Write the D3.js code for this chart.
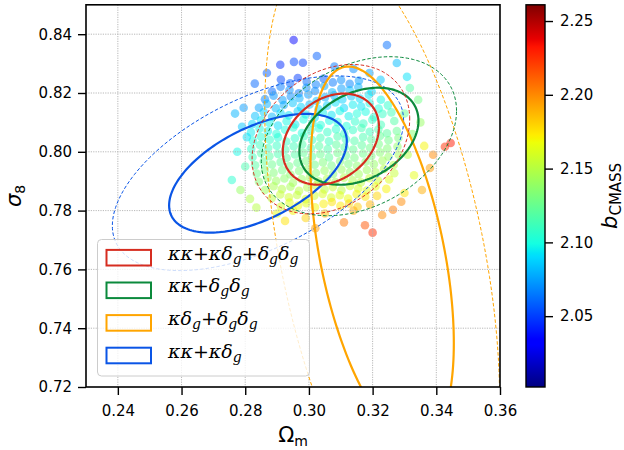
<!DOCTYPE html>
<html lang="en">
<head>
<meta charset="UTF-8">
<title>sigma8 - Omega_m</title>
<script src="https://cdn.jsdelivr.net/npm/d3@7"></script>
<style>
  body { margin: 0; background: #fff; }
  .axis text { font-family: "DejaVu Sans", sans-serif; font-size: 15px; fill: #000; }
  .axis line { stroke: #000; stroke-width: 1.4; }
  .axis path { display: none; }
</style>
</head>
<body>
<svg width="624" height="450" id="mainsvg"></svg>
<script>
// ---- axes ----
const omDomain = [0.23, 0.36];
const s8Domain = [0.72, 0.85];
const bDomain = [2.002, 2.261];
const omTicks = [0.24, 0.26, 0.28, 0.30, 0.32, 0.34, 0.36];
const s8Ticks = [0.72, 0.74, 0.76, 0.78, 0.80, 0.82, 0.84];
const bTicks = [2.05, 2.10, 2.15, 2.20, 2.25];

// ---- chain samples (Omega_m, sigma_8, b_CMASS) ----
const sampleOm = [
  0.2912, 0.2941, 0.2965, 0.2993, 0.3022, 0.3046, 0.3075, 0.3101, 0.3128, 0.3157,
  0.2884, 0.2911, 0.2939, 0.2968, 0.2992, 0.3019, 0.3048, 0.3073, 0.3102, 0.3128, 0.3155, 0.3197,
  0.2862, 0.2889, 0.2917, 0.2943, 0.2970, 0.2998, 0.3024, 0.3051, 0.3079, 0.3105, 0.3133, 0.3160, 0.3188, 0.3226,
  0.2843, 0.2868, 0.2896, 0.2921, 0.2949, 0.2975, 0.3002, 0.3030, 0.3057, 0.3083, 0.3110, 0.3138, 0.3164, 0.3191, 0.3219, 0.3248,
  0.2831, 0.2858, 0.2884, 0.2911, 0.2937, 0.2965, 0.2990, 0.3018, 0.3044, 0.3071, 0.3097, 0.3125, 0.3151, 0.3178, 0.3204, 0.3231, 0.3259,
  0.2822, 0.2850, 0.2876, 0.2903, 0.2930, 0.2957, 0.2983, 0.3011, 0.3037, 0.3064, 0.3090, 0.3118, 0.3145, 0.3171, 0.3199, 0.3226, 0.3268,
  0.2818, 0.2845, 0.2871, 0.2898, 0.2925, 0.2951, 0.2978, 0.3005, 0.3031, 0.3058, 0.3085, 0.3111, 0.3138, 0.3165, 0.3191, 0.3218, 0.3245, 0.3276,
  0.2824, 0.2849, 0.2877, 0.2903, 0.2929, 0.2956, 0.2984, 0.3010, 0.3036, 0.3063, 0.3090, 0.3116, 0.3143, 0.3170, 0.3196, 0.3223, 0.3250, 0.3281,
  0.2819, 0.2846, 0.2872, 0.2899, 0.2926, 0.2952, 0.2979, 0.3006, 0.3032, 0.3059, 0.3086, 0.3112, 0.3139, 0.3166, 0.3192, 0.3219, 0.3246, 0.3278,
  0.2823, 0.2850, 0.2876, 0.2903, 0.2930, 0.2956, 0.2983, 0.3010, 0.3036, 0.3063, 0.3090, 0.3116, 0.3143, 0.3170, 0.3196, 0.3223, 0.3250, 0.3282,
  0.2831, 0.2858, 0.2884, 0.2911, 0.2938, 0.2964, 0.2991, 0.3018, 0.3044, 0.3071, 0.3098, 0.3124, 0.3151, 0.3178, 0.3204, 0.3231, 0.3266,
  0.2836, 0.2862, 0.2889, 0.2916, 0.2942, 0.2969, 0.2996, 0.3022, 0.3049, 0.3076, 0.3102, 0.3129, 0.3156, 0.3182, 0.3209, 0.3236, 0.3268,
  0.2843, 0.2870, 0.2897, 0.2923, 0.2950, 0.2977, 0.3003, 0.3030, 0.3057, 0.3083, 0.3110, 0.3137, 0.3163, 0.3190, 0.3217, 0.3252,
  0.2862, 0.2889, 0.2915, 0.2942, 0.2969, 0.2995, 0.3022, 0.3049, 0.3075, 0.3102, 0.3129, 0.3155, 0.3182, 0.3209, 0.3243,
  0.2883, 0.2910, 0.2937, 0.2963, 0.2990, 0.3017, 0.3043, 0.3070, 0.3097, 0.3123, 0.3150, 0.3177, 0.3214,
  0.2912, 0.2939, 0.2966, 0.2992, 0.3019, 0.3046, 0.3072, 0.3099, 0.3126, 0.3153, 0.3192,
  0.2952, 0.2910, 0.2953, 0.2981, 0.3025, 0.3245, 0.3276, 0.3308, 0.3317, 0.3343, 0.2868, 0.3080, 0.3140, 0.3190, 0.2830, 0.3225,
  0.2758, 0.2790, 0.2775, 0.2800, 0.2795, 0.2785, 0.2815, 0.2835, 0.2805, 0.2768,
  0.3300, 0.3325, 0.3310, 0.3330, 0.3300, 0.3350, 0.3362, 0.3390, 0.3427, 0.3445, 0.3380, 0.3355,
  0.3176, 0.3264, 0.3230, 0.3050, 0.2990, 0.3110, 0.2950, 0.3200, 0.3020, 0.2900, 0.3140, 0.3290, 0.2925
];
const sampleS8 = [
  0.8246, 0.8233, 0.8251, 0.8238, 0.8229, 0.8249, 0.8236, 0.8244, 0.8231, 0.8242,
  0.8205, 0.8221, 0.8210, 0.8199, 0.8218, 0.8207, 0.8224, 0.8202, 0.8215, 0.8209, 0.8220, 0.8204,
  0.8179, 0.8191, 0.8176, 0.8188, 0.8182, 0.8195, 0.8173, 0.8186, 0.8192, 0.8178, 0.8189, 0.8181, 0.8194, 0.8177,
  0.8150, 0.8163, 0.8148, 0.8159, 0.8166, 0.8152, 0.8161, 0.8145, 0.8157, 0.8168, 0.8149, 0.8160, 0.8154, 0.8165, 0.8147, 0.8158,
  0.8122, 0.8135, 0.8119, 0.8131, 0.8124, 0.8138, 0.8127, 0.8117, 0.8133, 0.8125, 0.8139, 0.8121, 0.8130, 0.8136, 0.8118, 0.8129, 0.8134,
  0.8094, 0.8107, 0.8098, 0.8089, 0.8104, 0.8093, 0.8110, 0.8097, 0.8091, 0.8106, 0.8101, 0.8088, 0.8103, 0.8096, 0.8109, 0.8092, 0.8105,
  0.8066, 0.8079, 0.8070, 0.8061, 0.8075, 0.8083, 0.8064, 0.8072, 0.8080, 0.8067, 0.8077, 0.8062, 0.8074, 0.8081, 0.8068, 0.8076, 0.8063, 0.8071,
  0.8038, 0.8051, 0.8041, 0.8049, 0.8035, 0.8046, 0.8053, 0.8040, 0.8048, 0.8036, 0.8052, 0.8043, 0.8037, 0.8050, 0.8042, 0.8054, 0.8039, 0.8047,
  0.8010, 0.8023, 0.8013, 0.8021, 0.8007, 0.8019, 0.8025, 0.8012, 0.8020, 0.8009, 0.8024, 0.8015, 0.8008, 0.8022, 0.8014, 0.8026, 0.8011, 0.8018,
  0.7982, 0.7995, 0.7985, 0.7993, 0.7979, 0.7991, 0.7997, 0.7984, 0.7992, 0.7981, 0.7996, 0.7987, 0.7980, 0.7994, 0.7986, 0.7998, 0.7983, 0.7990,
  0.7954, 0.7967, 0.7957, 0.7965, 0.7951, 0.7963, 0.7969, 0.7956, 0.7964, 0.7953, 0.7968, 0.7959, 0.7952, 0.7966, 0.7958, 0.7970, 0.7955,
  0.7926, 0.7939, 0.7929, 0.7937, 0.7923, 0.7935, 0.7941, 0.7928, 0.7936, 0.7925, 0.7940, 0.7931, 0.7924, 0.7938, 0.7930, 0.7942, 0.7927,
  0.7898, 0.7911, 0.7901, 0.7909, 0.7895, 0.7907, 0.7913, 0.7900, 0.7908, 0.7897, 0.7912, 0.7903, 0.7896, 0.7910, 0.7902, 0.7906,
  0.7870, 0.7883, 0.7873, 0.7881, 0.7867, 0.7879, 0.7885, 0.7872, 0.7880, 0.7869, 0.7884, 0.7875, 0.7868, 0.7882, 0.7874,
  0.7842, 0.7855, 0.7845, 0.7853, 0.7839, 0.7851, 0.7857, 0.7844, 0.7852, 0.7841, 0.7856, 0.7847, 0.7850,
  0.7814, 0.7827, 0.7817, 0.7825, 0.7811, 0.7823, 0.7829, 0.7816, 0.7824, 0.7813, 0.7821,
  0.8380, 0.8296, 0.8306, 0.8303, 0.8326, 0.8363, 0.8302, 0.8255, 0.8217, 0.8177, 0.8268, 0.8290, 0.8282, 0.8268, 0.8232, 0.8245,
  0.7904, 0.8085, 0.8000, 0.7950, 0.8150, 0.7870, 0.7840, 0.7810, 0.8050, 0.8130,
  0.8130, 0.8060, 0.7990, 0.7920, 0.7860, 0.8100, 0.8020, 0.7990, 0.8017, 0.8030, 0.7945, 0.7870,
  0.7750, 0.7803, 0.7785, 0.7790, 0.7775, 0.7760, 0.7800, 0.7725, 0.7740, 0.7790, 0.7800, 0.7830, 0.7765
];
const sampleB = [
  2.052, 2.058, 2.049, 2.061, 2.066, 2.057, 2.064, 2.070, 2.068, 2.074,
  2.060, 2.066, 2.071, 2.064, 2.072, 2.069, 2.076, 2.080, 2.074, 2.083, 2.079, 2.088,
  2.068, 2.072, 2.075, 2.070, 2.079, 2.074, 2.083, 2.078, 2.081, 2.087, 2.084, 2.090, 2.093, 2.098,
  2.075, 2.079, 2.082, 2.077, 2.084, 2.088, 2.083, 2.090, 2.087, 2.092, 2.089, 2.095, 2.093, 2.099, 2.102, 2.106,
  2.083, 2.086, 2.081, 2.089, 2.092, 2.087, 2.094, 2.091, 2.096, 2.093, 2.098, 2.096, 2.101, 2.099, 2.104, 2.108, 2.112,
  2.089, 2.093, 2.096, 2.091, 2.098, 2.095, 2.100, 2.097, 2.102, 2.099, 2.104, 2.101, 2.106, 2.109, 2.107, 2.112, 2.118,
  2.095, 2.099, 2.097, 2.102, 2.100, 2.104, 2.101, 2.106, 2.103, 2.108, 2.105, 2.110, 2.108, 2.113, 2.111, 2.116, 2.120, 2.124,
  2.101, 2.104, 2.107, 2.103, 2.109, 2.106, 2.111, 2.108, 2.113, 2.110, 2.115, 2.112, 2.117, 2.115, 2.120, 2.123, 2.127, 2.131,
  2.106, 2.110, 2.112, 2.109, 2.115, 2.112, 2.117, 2.114, 2.119, 2.116, 2.121, 2.118, 2.123, 2.121, 2.126, 2.129, 2.133, 2.138,
  2.112, 2.116, 2.119, 2.115, 2.121, 2.118, 2.123, 2.120, 2.125, 2.122, 2.127, 2.124, 2.129, 2.127, 2.132, 2.135, 2.139, 2.144,
  2.119, 2.123, 2.126, 2.122, 2.128, 2.125, 2.130, 2.127, 2.132, 2.129, 2.134, 2.131, 2.136, 2.134, 2.139, 2.143, 2.149,
  2.126, 2.130, 2.133, 2.129, 2.135, 2.132, 2.137, 2.134, 2.139, 2.136, 2.141, 2.138, 2.143, 2.141, 2.146, 2.150, 2.155,
  2.134, 2.138, 2.141, 2.137, 2.143, 2.140, 2.145, 2.142, 2.147, 2.144, 2.149, 2.146, 2.151, 2.155, 2.158, 2.163,
  2.142, 2.146, 2.149, 2.145, 2.151, 2.148, 2.153, 2.150, 2.155, 2.152, 2.157, 2.160, 2.163, 2.167, 2.171,
  2.151, 2.155, 2.158, 2.154, 2.160, 2.157, 2.162, 2.159, 2.164, 2.167, 2.170, 2.174, 2.179,
  2.160, 2.164, 2.167, 2.163, 2.169, 2.172, 2.175, 2.173, 2.178, 2.182, 2.188,
  2.035, 2.045, 2.052, 2.050, 2.058, 2.062, 2.082, 2.092, 2.118, 2.128, 2.058, 2.064, 2.070, 2.076, 2.060, 2.085,
  2.105, 2.085, 2.098, 2.115, 2.074, 2.140, 2.148, 2.150, 2.092, 2.080,
  2.125, 2.135, 2.150, 2.165, 2.175, 2.140, 2.170, 2.200, 2.225, 2.232, 2.195, 2.190,
  2.215, 2.205, 2.200, 2.185, 2.180, 2.205, 2.170, 2.225, 2.195, 2.165, 2.190, 2.200, 2.175
];

// ---- Fisher contours: centre, 68% half-extent, correlation ----
const probeLabels = ['κκ+κδ_g+δ_gδ_g', 'κκ+δ_gδ_g', 'κδ_g+δ_gδ_g', 'κκ+κδ_g'];
const probeColors = ['#d62d20', '#0b8a3c', '#ffa500', '#0a55e6'];
const probeOm = [0.3069, 0.3157, 0.3230, 0.2840];
const probeS8 = [0.8043, 0.8053, 0.7650, 0.7927];
const probeHalfOm = [0.0151, 0.0187, 0.0225, 0.0279];
const probeHalfS8 = [0.0155, 0.0165, 0.0640, 0.0202];
const probeCorr = [0.27, 0.32, -0.47, 0.54];
const ratio95 = 1.639; // sqrt(6.18 / 2.30)

// matplotlib jet control points
const jetT = [0, 0.11, 0.125, 0.34, 0.35, 0.375, 0.64, 0.65, 0.66, 0.89, 0.91, 1];
const jetRGB = ['#000080', '#0000ff', '#0000ff', '#00dbff', '#00e5f7', '#14ffe2', '#eeff08', '#f7f500', '#ffec00', '#ff1300', '#e80000', '#800000'];

const svg = d3.select('#mainsvg');
const plot = { left: 86, right: 500, top: 4.8, bottom: 387 };
const bar = { left: 526, right: 545, top: 4.8, bottom: 387 };

const x = d3.scaleLinear().domain(omDomain).range([plot.left, plot.right]);
const y = d3.scaleLinear().domain(s8Domain).range([plot.bottom, plot.top]);
const color = d3.scaleLinear()
    .domain(jetT.map(t => bDomain[0] + t * (bDomain[1] - bDomain[0])))
    .range(jetRGB).clamp(true);

svg.append('clipPath').attr('id', 'plotclip')
    .append('rect')
    .attr('x', plot.left).attr('y', plot.top)
    .attr('width', plot.right - plot.left).attr('height', plot.bottom - plot.top);

// scatter
const samples = sampleOm.map((d, i) => ({ om: d, s8: sampleS8[i], b: sampleB[i] }));
svg.append('g').attr('clip-path', 'url(#plotclip)')
    .selectAll('circle').data(samples).join('circle')
    .attr('cx', d => x(d.om))
    .attr('cy', d => y(d.s8))
    .attr('r', 4.3)
    .attr('fill', d => color(d.b))
    .attr('fill-opacity', 0.5);

// grid
const grid = svg.append('g').attr('stroke', '#b0b0b0').attr('stroke-width', 0.9).attr('stroke-dasharray', '1.2,1.2');
grid.selectAll('.gx').data(omTicks.filter(t => t < 0.36)).join('line')
    .attr('x1', d => x(d)).attr('x2', d => x(d)).attr('y1', plot.top).attr('y2', plot.bottom);
grid.selectAll('.gy').data(s8Ticks.filter(t => t > 0.72)).join('line')
    .attr('y1', d => y(d)).attr('y2', d => y(d)).attr('x1', plot.left).attr('x2', plot.right);

// contours
const circle = d3.range(0, 361, 2).map(a => a * Math.PI / 180);
function contour(i, k) {
    const r = Math.sqrt(1 - probeCorr[i] ** 2);
    const pts = circle.map(t => [
        probeOm[i] + k * probeHalfOm[i] * Math.cos(t),
        probeS8[i] + k * probeHalfS8[i] * (probeCorr[i] * Math.cos(t) + r * Math.sin(t))
    ]);
    return d3.line().x(d => x(d[0])).y(d => y(d[1]))(pts);
}
const cg = svg.append('g').attr('clip-path', 'url(#plotclip)').attr('fill', 'none');
[3, 2, 1, 0].forEach(i => {
    cg.append('path').attr('d', contour(i, ratio95))
        .attr('stroke', probeColors[i]).attr('stroke-width', 1).attr('stroke-dasharray', '3.5,2');
    cg.append('path').attr('d', contour(i, 1))
        .attr('stroke', probeColors[i]).attr('stroke-width', 2.2);
});

// axes
svg.append('g').attr('class', 'axis')
    .attr('transform', `translate(0,${plot.bottom})`)
    .call(d3.axisBottom(x).tickValues(omTicks).tickFormat(d3.format('.2f')).tickSize(8).tickPadding(10));
svg.append('g').attr('class', 'axis')
    .attr('transform', `translate(${plot.left},0)`)
    .call(d3.axisLeft(y).tickValues(s8Ticks).tickFormat(d3.format('.2f')).tickSize(8).tickPadding(6));
svg.append('rect')
    .attr('x', plot.left).attr('y', plot.top)
    .attr('width', plot.right - plot.left).attr('height', plot.bottom - plot.top)
    .attr('fill', 'none').attr('stroke', '#000').attr('stroke-width', 1.6);

// axis labels
const xl = svg.append('text').attr('x', (plot.left + plot.right) / 2).attr('y', 442)
    .attr('text-anchor', 'middle').attr('font-family', 'DejaVu Sans').attr('font-size', 21);
xl.append('tspan').text('Ω');
xl.append('tspan').attr('dy', 4).attr('font-size', 14).text('m');

const yl = svg.append('text')
    .attr('transform', `translate(21,${(plot.top + plot.bottom) / 2}) rotate(-90)`)
    .attr('text-anchor', 'middle').attr('font-family', 'DejaVu Sans').attr('font-size', 21);
yl.append('tspan').attr('font-style', 'italic').text('σ');
yl.append('tspan').attr('dy', 4).attr('font-size', 14).text('8');

// legend
const lg = svg.append('g');
lg.append('rect')
    .attr('x', 97.5).attr('y', 239.5).attr('width', 212).attr('height', 136.5)
    .attr('rx', 4).attr('fill', 'white').attr('fill-opacity', 0.8)
    .attr('stroke', '#cccccc').attr('stroke-width', 1);
probeLabels.forEach((lab, i) => {
    const cy = 257.7 + i * 32.6;
    lg.append('rect')
        .attr('x', 106.5).attr('y', cy - 7.8).attr('width', 44.5).attr('height', 15.6)
        .attr('fill', 'none').attr('stroke', probeColors[i]).attr('stroke-width', 2);
    const t = lg.append('text').attr('x', 168).attr('y', cy + 6)
        .attr('font-family', 'DejaVu Serif, serif').attr('font-style', 'italic').attr('font-size', 19);
    lab.split(/(_g)/).filter(s => s).forEach(part => {
        if (part === '_g') {
            t.append('tspan').attr('dy', 4).attr('font-size', 14).text('g');
        } else {
            t.append('tspan').attr('dy', t.node().childNodes.length ? -4 : 0).text(part);
        }
    });
});

// colorbar
const cb = d3.scaleLinear().domain(bDomain).range([bar.bottom, bar.top]);
const grad = svg.append('defs').append('linearGradient').attr('id', 'jetgrad')
    .attr('x1', 0).attr('y1', 1).attr('x2', 0).attr('y2', 0);
grad.selectAll('stop').data(jetT).join('stop')
    .attr('offset', d => d)
    .attr('stop-color', (d, i) => jetRGB[i]);
svg.append('rect')
    .attr('x', bar.left).attr('y', bar.top)
    .attr('width', bar.right - bar.left).attr('height', bar.bottom - bar.top)
    .attr('fill', 'url(#jetgrad)').attr('stroke', '#000').attr('stroke-width', 1.4);
svg.append('g').attr('class', 'axis')
    .attr('transform', `translate(${bar.right},0)`)
    .call(d3.axisRight(cb).tickValues(bTicks).tickFormat(d3.format('.2f')).tickSize(8).tickPadding(7));

const bl = svg.append('text')
    .attr('transform', `translate(617,${(bar.top + bar.bottom) / 2}) rotate(-90)`)
    .attr('text-anchor', 'middle').attr('font-family', 'DejaVu Sans').attr('font-size', 21);
bl.append('tspan').attr('font-style', 'italic').text('b');
bl.append('tspan').attr('dy', 4).attr('font-size', 15).text('CMASS');
</script>
</body>
</html>
